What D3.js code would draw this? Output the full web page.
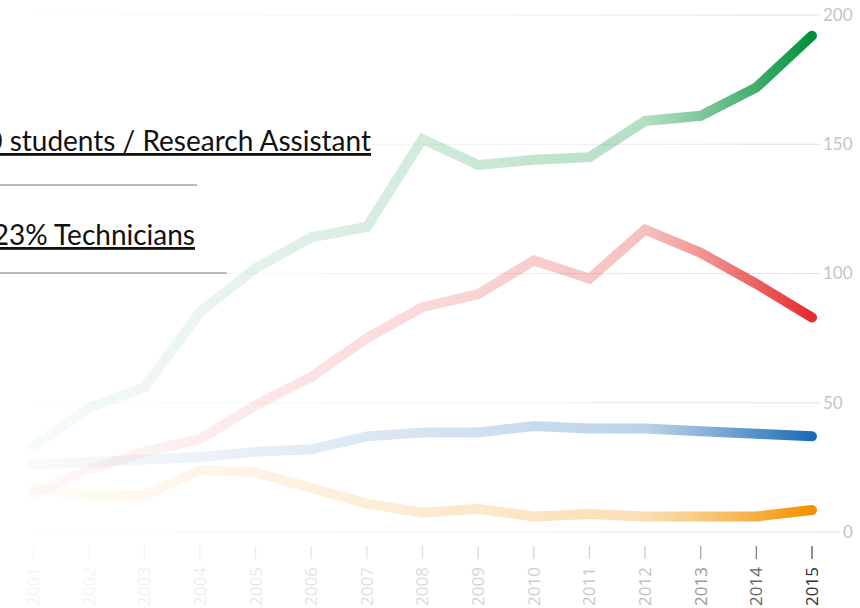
<!DOCTYPE html>
<html>
<head>
<meta charset="utf-8">
<script src="https://cdn.jsdelivr.net/npm/d3@7"></script>
<style>
  body { margin: 0; background: #fff; }
  svg { display: block; }
</style>
</head>
<body>
<svg id="chart"></svg>
<script>
'use strict';

// data
const years = [2001, 2002, 2003, 2004, 2005, 2006, 2007, 2008, 2009, 2010, 2011, 2012, 2013, 2014, 2015];
const greenValues  = [33, 48, 56, 85, 102, 114, 118, 152, 142, 144, 145, 159, 161, 172, 192];
const redValues    = [15, 24, 31, 36, 49, 60, 75, 87, 92, 105, 98, 117, 108, 96, 83];
const blueValues   = [26, 27, 28, 29, 31, 32, 37, 38.5, 38.5, 41, 40, 40, 39, 38, 37];
const orangeValues = [17, 14, 14, 24, 23, 17, 11, 7.5, 9, 6, 7, 6, 6, 6, 8.5];
const yTicks = [0, 50, 100, 150, 200];
const seriesColors = ['#00913a', '#e52b2b', '#1c6bb5', '#f39200'];
const notes = ['0 students / Research Assistant', '23% Technicians'];

const width = 860, height = 608;
const svg = d3.select('#chart')
    .attr('width', width)
    .attr('height', height);

const x = d3.scaleLinear().domain([2001, 2015]).range([33, 812]);
const y = d3.scaleLinear().domain([0, 200]).range([532, 15]);

// fade from left to right, same curve for lines, grid and labels
const fadeStops = [
    { offset: 0,     o: 0.03 },
    { offset: 0.2,   o: 0.08 },
    { offset: 0.5,   o: 0.18 },
    { offset: 0.786, o: 0.3 },
    { offset: 0.857, o: 0.5 },
    { offset: 0.929, o: 0.75 },
    { offset: 1,     o: 1 }
];
const fadeAt = d3.scaleLinear()
    .domain(fadeStops.map(s => x(2001) + s.offset * (x(2015) - x(2001))))
    .range(fadeStops.map(s => s.o))
    .clamp(true);

const defs = svg.append('defs');
function addGradient(id, color, x1, x2) {
    const g = defs.append('linearGradient')
        .attr('id', id)
        .attr('gradientUnits', 'userSpaceOnUse')
        .attr('x1', x1).attr('y1', 0)
        .attr('x2', x2).attr('y2', 0);
    g.selectAll('stop')
        .data(fadeStops)
        .join('stop')
        .attr('offset', d => d.offset)
        .attr('stop-color', color)
        .attr('stop-opacity', d => d.o);
}
seriesColors.forEach((c, i) => addGradient('fade' + i, c, x(2001), x(2015)));

const gridGrad = defs.append('linearGradient')
    .attr('id', 'gridFade')
    .attr('gradientUnits', 'userSpaceOnUse')
    .attr('x1', x(2001)).attr('y1', 0)
    .attr('x2', 820).attr('y2', 0);
gridGrad.append('stop').attr('offset', 0).attr('stop-color', '#e2e2e2').attr('stop-opacity', 0.1);
gridGrad.append('stop').attr('offset', 0.5).attr('stop-color', '#e2e2e2').attr('stop-opacity', 0.45);
gridGrad.append('stop').attr('offset', 1).attr('stop-color', '#e0e0e0').attr('stop-opacity', 1);

/**
 * Grid lines + right hand axis labels
 */
const grid = svg.append('g').attr('class', 'grid');
grid.selectAll('line')
    .data(yTicks)
    .join('line')
    .attr('x1', x(2001))
    .attr('x2', d => d === 0 ? 840 : 820)
    .attr('y1', d => y(d))
    .attr('y2', d => y(d))
    .attr('stroke', 'url(#gridFade)')
    .attr('stroke-width', 1.2);

grid.selectAll('text')
    .data(yTicks)
    .join('text')
    .attr('x', d => d === 0 ? 843 : 823)
    .attr('y', d => y(d))
    .attr('dy', '0.35em')
    .attr('fill', '#c4c4c4')
    .style('font-family', 'Lato, "Open Sans", sans-serif')
    .style('font-size', '17px')
    .text(d => d);

/**
 * X axis: short ticks and rotated year labels
 */
const xAxis = svg.append('g').attr('class', 'x-axis');
xAxis.selectAll('line')
    .data(years)
    .join('line')
    .attr('x1', d => x(d))
    .attr('x2', d => x(d))
    .attr('y1', 546)
    .attr('y2', 559)
    .attr('stroke', '#555')
    .attr('stroke-width', 1.3)
    .attr('opacity', d => fadeAt(x(d)));

xAxis.selectAll('text')
    .data(years)
    .join('text')
    .attr('transform', d => `translate(${x(d)},567) rotate(-90)`)
    .attr('dy', '0.35em')
    .attr('text-anchor', 'end')
    .attr('fill', '#333')
    .attr('opacity', d => Math.max(0.05, fadeAt(x(d))))
    .style('font-family', '"Open Sans", Lato, sans-serif')
    .style('font-size', '17px')
    .text(d => d);

/**
 * The four series
 */
const allSeries = [greenValues, redValues, blueValues, orangeValues];
const line = d3.line()
    .x((d, i) => x(years[i]))
    .y(d => y(d));

svg.append('g').attr('class', 'series')
    .selectAll('path')
    .data(allSeries)
    .join('path')
    .attr('d', d => line(d))
    .attr('fill', 'none')
    .attr('stroke', (d, i) => `url(#fade${i})`)
    .attr('stroke-width', 10)
    .attr('stroke-linecap', 'round')
    .attr('stroke-linejoin', 'miter');

/**
 * Annotation text on the left (cut off by the frame)
 */
const noteG = svg.append('g').attr('class', 'notes')
    .style('font-family', '"Lato", "Open Sans", sans-serif')
    .style('font-size', '28px');
noteG.append('text')
    .attr('x', 371).attr('y', 151)
    .attr('text-anchor', 'end')
    .attr('text-decoration', 'underline')
    .attr('fill', '#111')
    .text(notes[0]);
noteG.append('text')
    .attr('x', 195).attr('y', 245)
    .attr('text-anchor', 'end')
    .attr('text-decoration', 'underline')
    .attr('fill', '#111')
    .text(notes[1]);
noteG.append('line')
    .attr('x1', 0).attr('x2', 197)
    .attr('y1', 185).attr('y2', 185)
    .attr('stroke', '#777').attr('stroke-width', 1);
noteG.append('line')
    .attr('x1', 0).attr('x2', 227)
    .attr('y1', 273).attr('y2', 273)
    .attr('stroke', '#777').attr('stroke-width', 1);
</script>
</body>
</html>
